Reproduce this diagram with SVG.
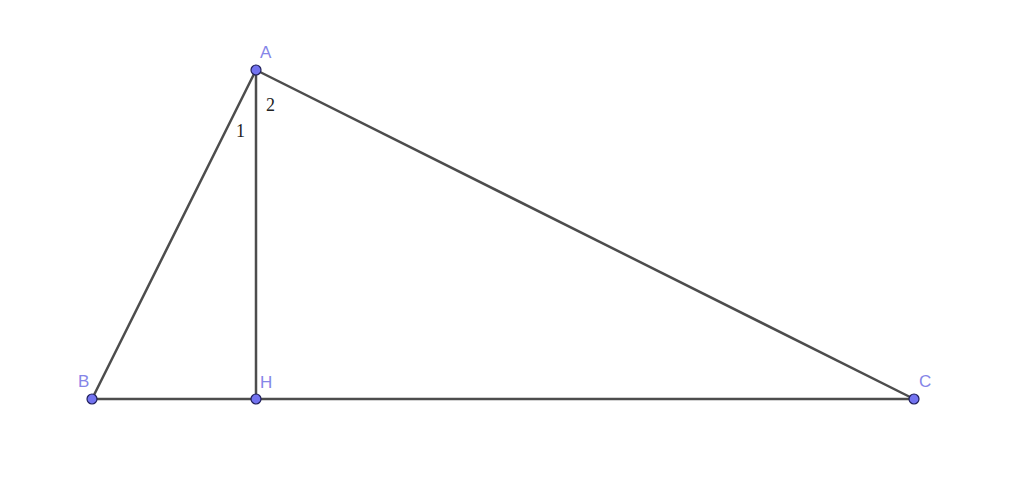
<svg xmlns="http://www.w3.org/2000/svg" width="1024" height="479" viewBox="0 0 1024 479">
<style>
.seg{stroke:#4d4d4d;stroke-width:2.5;fill:none;stroke-linecap:round}
.pt{fill:#7373f0;stroke:#1f1f5a;stroke-width:1.2}
.lbl{font-family:"Liberation Sans",Arial,sans-serif;font-size:17px;fill:#8585e8}
.ang{font-family:"Liberation Serif","Times New Roman",serif;font-size:18px;fill:#222}
</style>
<rect width="1024" height="479" fill="#fff"/>
<g id="connectors">
<line class="seg" x1="256" y1="70" x2="92" y2="399"/>
<line class="seg" x1="256" y1="70" x2="914" y2="399"/>
<line class="seg" x1="92" y1="399" x2="914" y2="399"/>
<line class="seg" x1="256" y1="70" x2="256" y2="399"/>
</g>
<text class="ang" x="236" y="137">1</text>
<text class="ang" x="266" y="111">2</text>
<g id="A"><circle class="pt" cx="256" cy="70" r="5"/><text class="lbl" x="260" y="58">A</text></g>
<g id="B"><circle class="pt" cx="92" cy="399" r="5"/><text class="lbl" x="78" y="387">B</text></g>
<g id="H"><circle class="pt" cx="256" cy="399" r="5"/><text class="lbl" x="260" y="388">H</text></g>
<g id="C"><circle class="pt" cx="914" cy="399" r="5"/><text class="lbl" x="919" y="387">C</text></g>
</svg>
